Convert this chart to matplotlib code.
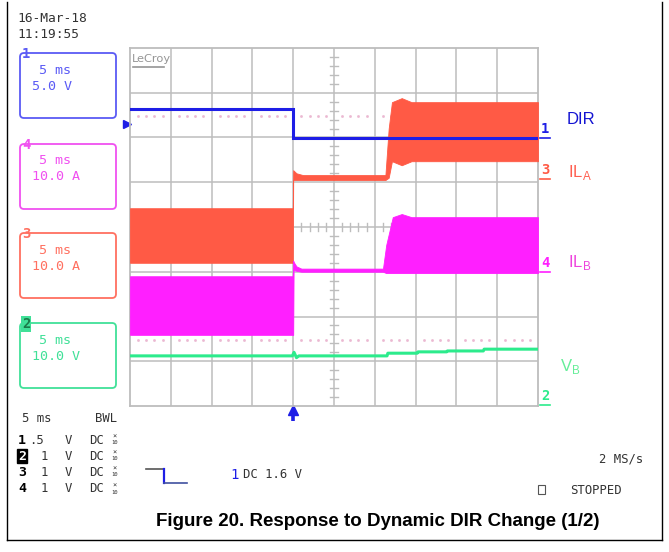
import matplotlib
matplotlib.use("Agg")
import matplotlib.pyplot as plt
from matplotlib.patches import FancyBboxPatch, Rectangle

# ---------------- data (time in ms, signal in screen divisions) ----------------
t_dir = [0, 20.0, 20.0, 50]
dir_div = [6.64, 6.64, 5.99, 5.99]

t_ila = [0, 19.95, 20.0, 20.4, 21.2, 31.3, 31.7, 32.1, 33.3, 34.5, 50]
ila_top = [4.42, 4.42, 5.27, 5.20, 5.16, 5.16, 6.20, 6.79, 6.88, 6.79, 6.79]
ila_bot = [3.20, 3.20, 5.05, 5.05, 5.05, 5.05, 5.10, 5.47, 5.38, 5.47, 5.47]

t_ilb = [0, 19.95, 20.0, 20.05, 20.4, 21.0, 31.0, 31.4, 32.2, 33.3, 34.5, 50]
ilb_top = [2.90, 2.90, 3.25, 3.22, 3.12, 3.07, 3.07, 3.60, 4.22, 4.29, 4.22, 4.22]
ilb_bot = [1.59, 1.59, 1.59, 3.04, 3.02, 3.00, 3.00, 2.97, 2.97, 2.97, 2.97, 2.97]

t_vb = [0, 19.9, 20.1, 20.4, 20.7, 31.5, 31.6, 35.2, 35.3, 38.8, 38.9, 43.3, 43.4, 50]
vb_div = [1.12, 1.12, 1.20, 1.08, 1.12, 1.12, 1.18, 1.18, 1.21, 1.21, 1.23, 1.23, 1.27, 1.27]

dotted_levels = [6.48, 1.47]
channel_marks = [("1", 5.99), ("3", 5.07), ("4", 3.00), ("2", 0.02)]
trigger_time = 20.0
trigger_level = 6.30

C_DIR = "#1E1EE6"
C_ILA = "#FF5A45"
C_ILB = "#FF1FFF"
C_VB = "#2CEB8C"
GRID = "#BDBDBD"

fig = plt.figure(figsize=(6.69, 5.52), dpi=100)
W, H = 669, 552

# ---------------- main scope axes ----------------
ax = fig.add_axes([130 / W, (H - 406) / H, 408 / W, 358 / H])
ax.set_xlim(0, 50)
ax.set_ylim(0, 8)
ax.set_xticks([])
ax.set_yticks([])
for s in ax.spines.values():
    s.set_color(GRID)
    s.set_linewidth(1.3)

for i in range(1, 10):
    ax.axvline(i * 5, color=GRID, lw=1.1, zorder=1)
for j in range(1, 8):
    ax.axhline(j, color=GRID, lw=1.1, zorder=1)

# centre crosshair ticks
for k in range(1, 40):
    yk = k * 0.2
    if abs(yk - round(yk)) > 1e-6:
        ax.plot([24.5, 25.5], [yk, yk], color=GRID, lw=1.0, zorder=1)
for k in range(1, 50):
    if k % 5:
        ax.plot([k, k], [3.91, 4.09], color=GRID, lw=1.0, zorder=1)

# dotted level lines
for lev in dotted_levels:
    xs = [k for k in range(1, 50) if k % 5]
    ax.plot(xs, [lev] * len(xs), ls="none", marker="s", ms=0.9,
            color="#EBB8D2", zorder=1)

# waveforms
ax.fill_between(t_ila, ila_bot, ila_top, color=C_ILA, lw=0.6, edgecolor=C_ILA, zorder=3)
ax.fill_between(t_ilb, ilb_bot, ilb_top, color=C_ILB, lw=0.6, edgecolor=C_ILB, zorder=3)
ax.plot(t_dir, dir_div, color=C_DIR, lw=2.2, zorder=5, solid_joinstyle="miter")
ax.plot(t_vb, vb_div, color=C_VB, lw=2.2, zorder=4)

# channel offset markers on right edge
mark_cols = {"1": C_DIR, "3": C_ILA, "4": C_ILB, "2": C_VB}
for lab, lev in channel_marks:
    ax.text(50.35, lev + 0.04, lab, color=mark_cols[lab], fontsize=10,
            fontweight="bold", family="DejaVu Sans Mono", ha="left", va="bottom",
            clip_on=False)
    ax.plot([50.2, 51.5], [lev, lev], color=mark_cols[lab], lw=1.2, clip_on=False)

# trigger level marker (left) and trigger time arrow (bottom)
ax.plot([-0.35], [trigger_level], marker=">", color=C_DIR, ms=6, clip_on=False)
ax.plot([trigger_time, trigger_time], [-0.34, -0.1], color=C_DIR, lw=2.6,
        clip_on=False, solid_capstyle="butt")
ax.plot([trigger_time], [-0.1], marker="^", color=C_DIR, ms=6.5, clip_on=False)

# ---------------- overlay in pixel coordinates ----------------
ov = fig.add_axes([0, 0, 1, 1])
ov.set_xlim(0, W)
ov.set_ylim(H, 0)
ov.axis("off")
ov.patch.set_alpha(0)

MONO = "DejaVu Sans Mono"
TXT = "#333333"

# outer frame
ov.plot([7, 7], [2, 540], color="black", lw=1.0)
ov.plot([662, 662], [2, 540], color="black", lw=1.0)
ov.plot([7, 662], [540, 540], color="black", lw=1.0)

ov.text(17, 18, "16-Mar-18", family=MONO, fontsize=9.3, color=TXT, va="center")
ov.text(17, 34, "11:19:55", family=MONO, fontsize=9.3, color=TXT, va="center")

# LeCroy logo
ov.text(132, 59, "LeCroy", fontsize=8.2, color="#959595", va="center",
        family="DejaVu Sans")
ov.plot([133, 164], [67, 67], color="#959595", lw=1.2)

boxes = [
    ("1", 53, "#5A5AF5", "5 ms", "5.0 V"),
    ("4", 144, "#F050F0", "5 ms", "10.0 A"),
    ("3", 233, "#FF7060", "5 ms", "10.0 A"),
    ("2", 323, "#40E098", "5 ms", "10.0 V"),
]
for ch, top, col, l1, l2 in boxes:
    ov.add_patch(FancyBboxPatch((20, top), 96, 65,
                                boxstyle="round,pad=0,rounding_size=4",
                                fc="none", ec=col, lw=1.3))
    if ch == "2":
        ov.text(26, top + 1, ch, color="#1A7A48", fontsize=10, fontweight="bold",
                family=MONO, ha="center", va="center",
                bbox=dict(boxstyle="square,pad=0.05", fc=col, ec="none"))
    else:
        ov.text(26, top + 1, ch, color=col, fontsize=10, fontweight="bold",
                family=MONO, ha="center", va="center")
    ov.text(39, top + 17, l1, color=col, fontsize=9.6, family=MONO, va="center")
    ov.text(32, top + 33, l2, color=col, fontsize=9.6, family=MONO, va="center")

# right labels
LAB = "Liberation Sans"
ov.text(567, 120, "DIR", color="#1414D2", fontsize=12, family=LAB, va="center")
ov.text(568, 172, r"IL$_\mathregular{A}$", color="#FF5F50", fontsize=12,
        family=LAB, va="center")
ov.text(568, 262, r"IL$_\mathregular{B}$", color="#EE44DD", fontsize=12,
        family=LAB, va="center")
ov.text(560, 366, r"V$_\mathregular{B}$", color="#66EE99", fontsize=12,
        family=LAB, va="center")

# bottom-left status block
ov.text(22, 418, "5 ms", family=MONO, fontsize=8.8, color=TXT, va="center")
ov.text(95, 418, "BWL", family=MONO, fontsize=8.8, color=TXT, va="center")
rows = [("1", ".5", 440), ("2", "1", 456), ("3", "1", 472), ("4", "1", 489)]
for ch, sc, y in rows:
    if ch == "2":
        ov.text(18, y, ch, family=MONO, fontsize=9.5, fontweight="bold",
                color="white", va="center",
                bbox=dict(boxstyle="square,pad=0.05", fc="black", ec="black"))
    else:
        ov.text(18, y, ch, family=MONO, fontsize=9.5, fontweight="bold",
                color="black", va="center")
    ov.text(44, y, sc, family=MONO, fontsize=8.8, color=TXT, va="center",
            ha="right" if sc == ".5" else "center")
    ov.text(65, y, "V", family=MONO, fontsize=8.8, color=TXT, va="center")
    ov.text(89, y, "DC", family=MONO, fontsize=8.8, color=TXT, va="center")
    ov.text(115, y - 3, "×", family=MONO, fontsize=5, color=TXT, ha="center", va="center")
    ov.text(115, y + 3, "10", family=MONO, fontsize=4, color=TXT, ha="center", va="center")

# trigger slope symbol
ov.plot([146, 164], [469, 469], color="#555555", lw=1.2)
ov.plot([164, 164], [469, 483], color=C_DIR, lw=1.6)
ov.plot([164, 187], [483, 483], color="#4050A0", lw=1.2)
ov.text(230, 475, "1", family=MONO, fontsize=10, color=C_DIR, va="center")
ov.text(243, 475, "DC 1.6 V", family=MONO, fontsize=8.8, color=TXT, va="center")

ov.text(643, 459, "2 MS/s", family=MONO, fontsize=8.8, color=TXT, va="center", ha="right")
ov.add_patch(Rectangle((538, 485), 7, 9, fc="none", ec="#555555", lw=0.8))
ov.text(570, 491, "STOPPED", family=MONO, fontsize=8.8, color=TXT, va="center")

ov.text(378, 522, "Figure 20. Response to Dynamic DIR Change (1/2)",
        family=LAB, fontsize=13.5, fontweight="bold", color="black",
        ha="center", va="center")

fig.savefig("out.png", dpi=100)
